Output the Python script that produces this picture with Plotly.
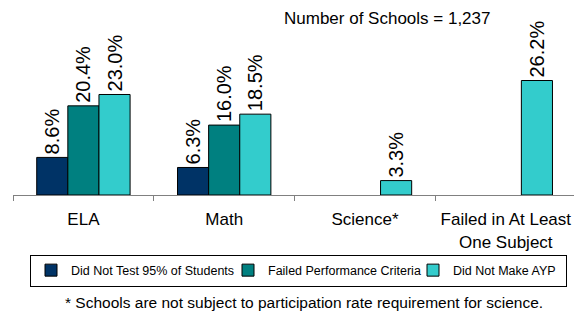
import plotly.graph_objects as go

categories = ["ELA", "Math", "Science*", "Failed in At Least<br>One Subject"]
did_not_test = [8.6, 6.3, None, None]
failed_perf = [20.4, 16.0, None, None]
did_not_make_ayp = [23.0, 18.5, 3.3, 26.2]
series_names = ["Did Not Test 95% of Students", "Failed Performance Criteria", "Did Not Make AYP"]
series_colors = ["#003366", "#008080", "#33CCCC"]
legend_widths = [152, 140, 108]

W, H = 574, 311
L, T, B = 13, 10, 116
plot_w = W - L
plot_h = H - T - B
px_per_pct = 4.37

def px_x(x):
    return (x - L) / plot_w

def px_y(y):
    return (H - B - y) / plot_h

fig = go.Figure()
for name, vals, col, lw in zip(series_names, [did_not_test, failed_perf, did_not_make_ayp],
                               series_colors, legend_widths):
    fig.add_trace(go.Bar(
        x=categories, y=vals, name=name,
        marker=dict(color=col, line=dict(color="#000000", width=1)),
        text=[f"{v:.1f}%" if v is not None else "" for v in vals],
        textposition="outside", textangle=-90,
        textfont=dict(family="Liberation Sans, Arial", size=20, color="#000000"),
        constraintext="none", cliponaxis=False,
        legendwidth=lw,
    ))

cat_w = 140.8
fig.update_layout(
    width=W, height=H,
    margin=dict(l=L, r=0, t=T, b=B),
    paper_bgcolor="white", plot_bgcolor="white",
    barmode="group", bargap=0.337, bargroupgap=0,
    font=dict(family="Liberation Sans, Arial", color="#000000"),
    xaxis=dict(
        range=[-0.5, -0.5 + plot_w / cat_w],
        showline=True, linecolor="#808080", linewidth=1,
        ticks="outside", tickson="boundaries", ticklen=5, tickcolor="#808080",
        tickfont=dict(size=17, color="#000000"),
        ticklabelstandoff=9, automargin=False,
        showgrid=False, zeroline=False,
    ),
    yaxis=dict(range=[0, plot_h / px_per_pct], visible=False, showgrid=False,
               automargin=False),
    showlegend=True,
    legend=dict(
        orientation="h", xref="container", yref="container",
        x=30 / W, xanchor="left", y=1 - 270.5 / H, yanchor="middle",
        font=dict(size=12.5, color="#000000"),
        bordercolor="#000000", borderwidth=1,
        itemwidth=30, tracegroupgap=0,
    ),
    annotations=[
        dict(text="Number of Schools = 1,237", xref="paper", yref="paper",
             x=px_x(386.5), y=px_y(18.3), xanchor="center", yanchor="middle",
             showarrow=False, font=dict(size=17)),
        dict(text="* Schools are not subject to participation rate requirement for science.",
             xref="paper", yref="paper", x=px_x(303.5), y=px_y(302),
             xanchor="center", yanchor="middle", showarrow=False, font=dict(size=15.5)),
    ],
)

fig.write_html(
    "out.html",
    config={"displayModeBar": False},
    post_script="document.body.style.margin='0';document.body.style.padding='0';"
                "document.body.style.overflow='hidden';",
)
